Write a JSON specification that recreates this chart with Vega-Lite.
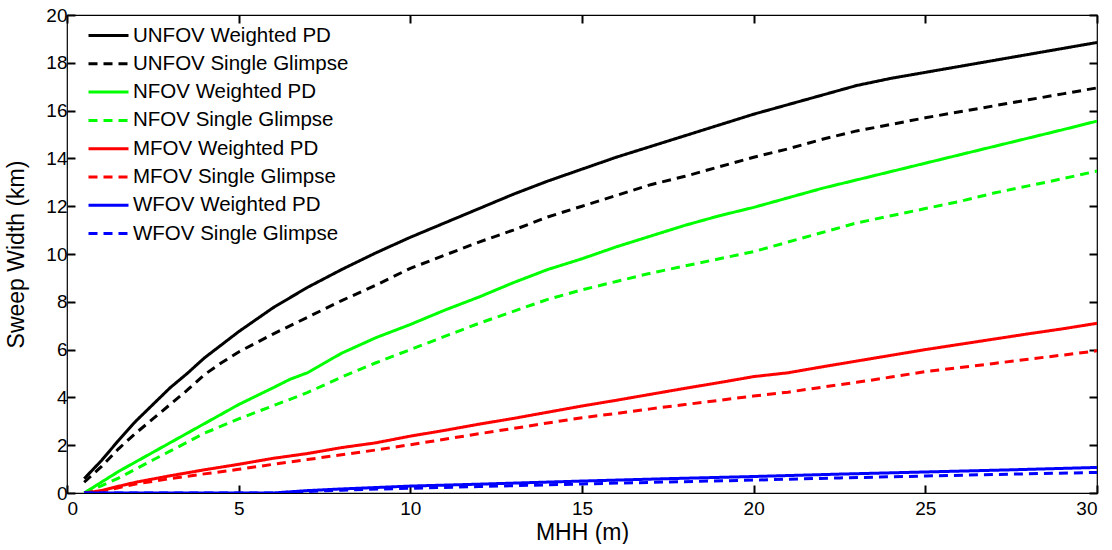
{
  "$schema": "https://vega.github.io/schema/vega-lite/v6.json",
  "width": 1030,
  "height": 478,
  "padding": {"left": 5, "top": 6, "right": 10, "bottom": 0},
  "background": "white",
  "config": {
    "font": "Liberation Sans",
    "view": {"stroke": "#000", "strokeWidth": 1.2},
    "axis": {"grid": false, "domain": false, "tickColor": "black", "tickSize": -8, "tickWidth": 2, "labelColor": "#000", "labelFontSize": 19, "titleColor": "#000", "titleFontSize": 23, "titleFontWeight": "normal", "labelFont": "Liberation Sans", "titleFont": "Liberation Sans", "zindex": 1},
    "legend": {"symbolType": "M-2,0L2,0", "symbolSize": 400, "symbolStrokeWidth": 3, "labelFontSize": 20.5, "labelFont": "Liberation Sans", "labelColor": "#000", "labelOffset": 13, "rowPadding": 6.3, "padding": 0, "labelLimit": 400}
  },
  "data": {"values": [
    {"s":"UNFOV Weighted PD","x":0.5,"y":0.6},{"s":"UNFOV Weighted PD","x":1,"y":1.35},{"s":"UNFOV Weighted PD","x":1.5,"y":2.2},{"s":"UNFOV Weighted PD","x":2,"y":3.0},{"s":"UNFOV Weighted PD","x":2.5,"y":3.7},{"s":"UNFOV Weighted PD","x":3,"y":4.4},{"s":"UNFOV Weighted PD","x":3.5,"y":5.0},{"s":"UNFOV Weighted PD","x":4,"y":5.65},{"s":"UNFOV Weighted PD","x":4.5,"y":6.2},{"s":"UNFOV Weighted PD","x":5,"y":6.75},{"s":"UNFOV Weighted PD","x":6,"y":7.75},{"s":"UNFOV Weighted PD","x":7,"y":8.6},{"s":"UNFOV Weighted PD","x":8,"y":9.35},{"s":"UNFOV Weighted PD","x":9,"y":10.05},{"s":"UNFOV Weighted PD","x":10,"y":10.7},{"s":"UNFOV Weighted PD","x":11,"y":11.3},{"s":"UNFOV Weighted PD","x":12,"y":11.9},{"s":"UNFOV Weighted PD","x":13,"y":12.5},{"s":"UNFOV Weighted PD","x":14,"y":13.05},{"s":"UNFOV Weighted PD","x":15,"y":13.55},{"s":"UNFOV Weighted PD","x":16,"y":14.05},{"s":"UNFOV Weighted PD","x":17,"y":14.5},{"s":"UNFOV Weighted PD","x":18,"y":14.95},{"s":"UNFOV Weighted PD","x":19,"y":15.4},{"s":"UNFOV Weighted PD","x":20,"y":15.85},{"s":"UNFOV Weighted PD","x":21,"y":16.25},{"s":"UNFOV Weighted PD","x":22,"y":16.65},{"s":"UNFOV Weighted PD","x":23,"y":17.05},{"s":"UNFOV Weighted PD","x":23.5,"y":17.2},{"s":"UNFOV Weighted PD","x":24,"y":17.35},{"s":"UNFOV Weighted PD","x":25,"y":17.6},{"s":"UNFOV Weighted PD","x":26,"y":17.85},{"s":"UNFOV Weighted PD","x":27,"y":18.1},{"s":"UNFOV Weighted PD","x":28,"y":18.35},{"s":"UNFOV Weighted PD","x":29,"y":18.6},{"s":"UNFOV Weighted PD","x":30,"y":18.85},
    {"s":"UNFOV Single Glimpse","x":0.5,"y":0.45},{"s":"UNFOV Single Glimpse","x":1,"y":1.1},{"s":"UNFOV Single Glimpse","x":1.5,"y":1.85},{"s":"UNFOV Single Glimpse","x":2,"y":2.5},{"s":"UNFOV Single Glimpse","x":2.5,"y":3.1},{"s":"UNFOV Single Glimpse","x":3,"y":3.7},{"s":"UNFOV Single Glimpse","x":3.5,"y":4.3},{"s":"UNFOV Single Glimpse","x":4,"y":4.95},{"s":"UNFOV Single Glimpse","x":4.5,"y":5.45},{"s":"UNFOV Single Glimpse","x":5,"y":5.9},{"s":"UNFOV Single Glimpse","x":6,"y":6.65},{"s":"UNFOV Single Glimpse","x":7,"y":7.35},{"s":"UNFOV Single Glimpse","x":8,"y":8.05},{"s":"UNFOV Single Glimpse","x":9,"y":8.7},{"s":"UNFOV Single Glimpse","x":10,"y":9.4},{"s":"UNFOV Single Glimpse","x":11,"y":9.95},{"s":"UNFOV Single Glimpse","x":12,"y":10.5},{"s":"UNFOV Single Glimpse","x":13,"y":11.0},{"s":"UNFOV Single Glimpse","x":14,"y":11.55},{"s":"UNFOV Single Glimpse","x":15,"y":12.0},{"s":"UNFOV Single Glimpse","x":16,"y":12.45},{"s":"UNFOV Single Glimpse","x":17,"y":12.9},{"s":"UNFOV Single Glimpse","x":18,"y":13.25},{"s":"UNFOV Single Glimpse","x":19,"y":13.65},{"s":"UNFOV Single Glimpse","x":20,"y":14.05},{"s":"UNFOV Single Glimpse","x":21,"y":14.4},{"s":"UNFOV Single Glimpse","x":22,"y":14.8},{"s":"UNFOV Single Glimpse","x":23,"y":15.15},{"s":"UNFOV Single Glimpse","x":24,"y":15.42},{"s":"UNFOV Single Glimpse","x":25,"y":15.7},{"s":"UNFOV Single Glimpse","x":26,"y":15.95},{"s":"UNFOV Single Glimpse","x":27,"y":16.2},{"s":"UNFOV Single Glimpse","x":28,"y":16.45},{"s":"UNFOV Single Glimpse","x":29,"y":16.7},{"s":"UNFOV Single Glimpse","x":30,"y":16.95},
    {"s":"NFOV Weighted PD","x":0.5,"y":0},{"s":"NFOV Weighted PD","x":1,"y":0.45},{"s":"NFOV Weighted PD","x":1.5,"y":0.9},{"s":"NFOV Weighted PD","x":2,"y":1.3},{"s":"NFOV Weighted PD","x":2.5,"y":1.7},{"s":"NFOV Weighted PD","x":3,"y":2.1},{"s":"NFOV Weighted PD","x":4,"y":2.9},{"s":"NFOV Weighted PD","x":5,"y":3.7},{"s":"NFOV Weighted PD","x":6,"y":4.4},{"s":"NFOV Weighted PD","x":6.5,"y":4.76},{"s":"NFOV Weighted PD","x":7,"y":5.03},{"s":"NFOV Weighted PD","x":8,"y":5.85},{"s":"NFOV Weighted PD","x":9,"y":6.5},{"s":"NFOV Weighted PD","x":10,"y":7.05},{"s":"NFOV Weighted PD","x":11,"y":7.65},{"s":"NFOV Weighted PD","x":12,"y":8.2},{"s":"NFOV Weighted PD","x":13,"y":8.8},{"s":"NFOV Weighted PD","x":14,"y":9.35},{"s":"NFOV Weighted PD","x":15,"y":9.8},{"s":"NFOV Weighted PD","x":16,"y":10.3},{"s":"NFOV Weighted PD","x":17,"y":10.75},{"s":"NFOV Weighted PD","x":18,"y":11.2},{"s":"NFOV Weighted PD","x":19,"y":11.6},{"s":"NFOV Weighted PD","x":20,"y":11.95},{"s":"NFOV Weighted PD","x":21,"y":12.35},{"s":"NFOV Weighted PD","x":22,"y":12.75},{"s":"NFOV Weighted PD","x":23,"y":13.1},{"s":"NFOV Weighted PD","x":24,"y":13.45},{"s":"NFOV Weighted PD","x":25,"y":13.8},{"s":"NFOV Weighted PD","x":26,"y":14.15},{"s":"NFOV Weighted PD","x":27,"y":14.5},{"s":"NFOV Weighted PD","x":28,"y":14.85},{"s":"NFOV Weighted PD","x":29,"y":15.2},{"s":"NFOV Weighted PD","x":30,"y":15.56},
    {"s":"NFOV Single Glimpse","x":0.5,"y":0},{"s":"NFOV Single Glimpse","x":1,"y":0.3},{"s":"NFOV Single Glimpse","x":1.5,"y":0.62},{"s":"NFOV Single Glimpse","x":2,"y":1.0},{"s":"NFOV Single Glimpse","x":2.5,"y":1.38},{"s":"NFOV Single Glimpse","x":3,"y":1.75},{"s":"NFOV Single Glimpse","x":4,"y":2.5},{"s":"NFOV Single Glimpse","x":5,"y":3.1},{"s":"NFOV Single Glimpse","x":6,"y":3.65},{"s":"NFOV Single Glimpse","x":7,"y":4.2},{"s":"NFOV Single Glimpse","x":8,"y":4.85},{"s":"NFOV Single Glimpse","x":9,"y":5.45},{"s":"NFOV Single Glimpse","x":10,"y":6.0},{"s":"NFOV Single Glimpse","x":11,"y":6.55},{"s":"NFOV Single Glimpse","x":12,"y":7.1},{"s":"NFOV Single Glimpse","x":13,"y":7.6},{"s":"NFOV Single Glimpse","x":14,"y":8.1},{"s":"NFOV Single Glimpse","x":15,"y":8.5},{"s":"NFOV Single Glimpse","x":16,"y":8.85},{"s":"NFOV Single Glimpse","x":17,"y":9.2},{"s":"NFOV Single Glimpse","x":18,"y":9.5},{"s":"NFOV Single Glimpse","x":19,"y":9.8},{"s":"NFOV Single Glimpse","x":20,"y":10.1},{"s":"NFOV Single Glimpse","x":21,"y":10.5},{"s":"NFOV Single Glimpse","x":22,"y":10.9},{"s":"NFOV Single Glimpse","x":23,"y":11.3},{"s":"NFOV Single Glimpse","x":24,"y":11.6},{"s":"NFOV Single Glimpse","x":25,"y":11.9},{"s":"NFOV Single Glimpse","x":26,"y":12.2},{"s":"NFOV Single Glimpse","x":27,"y":12.55},{"s":"NFOV Single Glimpse","x":28,"y":12.85},{"s":"NFOV Single Glimpse","x":29,"y":13.15},{"s":"NFOV Single Glimpse","x":30,"y":13.47},
    {"s":"MFOV Weighted PD","x":0.5,"y":0},{"s":"MFOV Weighted PD","x":1,"y":0.1},{"s":"MFOV Weighted PD","x":1.5,"y":0.28},{"s":"MFOV Weighted PD","x":2,"y":0.45},{"s":"MFOV Weighted PD","x":3,"y":0.72},{"s":"MFOV Weighted PD","x":4,"y":0.97},{"s":"MFOV Weighted PD","x":5,"y":1.2},{"s":"MFOV Weighted PD","x":6,"y":1.45},{"s":"MFOV Weighted PD","x":7,"y":1.65},{"s":"MFOV Weighted PD","x":8,"y":1.9},{"s":"MFOV Weighted PD","x":9,"y":2.1},{"s":"MFOV Weighted PD","x":10,"y":2.38},{"s":"MFOV Weighted PD","x":11,"y":2.62},{"s":"MFOV Weighted PD","x":12,"y":2.88},{"s":"MFOV Weighted PD","x":13,"y":3.12},{"s":"MFOV Weighted PD","x":14,"y":3.38},{"s":"MFOV Weighted PD","x":15,"y":3.64},{"s":"MFOV Weighted PD","x":16,"y":3.88},{"s":"MFOV Weighted PD","x":17,"y":4.13},{"s":"MFOV Weighted PD","x":18,"y":4.38},{"s":"MFOV Weighted PD","x":19,"y":4.62},{"s":"MFOV Weighted PD","x":20,"y":4.87},{"s":"MFOV Weighted PD","x":21,"y":5.03},{"s":"MFOV Weighted PD","x":22,"y":5.28},{"s":"MFOV Weighted PD","x":23,"y":5.52},{"s":"MFOV Weighted PD","x":24,"y":5.76},{"s":"MFOV Weighted PD","x":25,"y":6.0},{"s":"MFOV Weighted PD","x":26,"y":6.22},{"s":"MFOV Weighted PD","x":27,"y":6.44},{"s":"MFOV Weighted PD","x":28,"y":6.66},{"s":"MFOV Weighted PD","x":29,"y":6.87},{"s":"MFOV Weighted PD","x":30,"y":7.1},
    {"s":"MFOV Single Glimpse","x":0.5,"y":0},{"s":"MFOV Single Glimpse","x":1,"y":0.08},{"s":"MFOV Single Glimpse","x":1.5,"y":0.22},{"s":"MFOV Single Glimpse","x":2,"y":0.38},{"s":"MFOV Single Glimpse","x":3,"y":0.6},{"s":"MFOV Single Glimpse","x":4,"y":0.8},{"s":"MFOV Single Glimpse","x":5,"y":0.99},{"s":"MFOV Single Glimpse","x":6,"y":1.2},{"s":"MFOV Single Glimpse","x":7,"y":1.4},{"s":"MFOV Single Glimpse","x":8,"y":1.6},{"s":"MFOV Single Glimpse","x":9,"y":1.8},{"s":"MFOV Single Glimpse","x":10,"y":2.02},{"s":"MFOV Single Glimpse","x":11,"y":2.25},{"s":"MFOV Single Glimpse","x":12,"y":2.48},{"s":"MFOV Single Glimpse","x":13,"y":2.7},{"s":"MFOV Single Glimpse","x":14,"y":2.93},{"s":"MFOV Single Glimpse","x":15,"y":3.15},{"s":"MFOV Single Glimpse","x":16,"y":3.33},{"s":"MFOV Single Glimpse","x":17,"y":3.52},{"s":"MFOV Single Glimpse","x":18,"y":3.7},{"s":"MFOV Single Glimpse","x":19,"y":3.88},{"s":"MFOV Single Glimpse","x":20,"y":4.06},{"s":"MFOV Single Glimpse","x":21,"y":4.22},{"s":"MFOV Single Glimpse","x":22,"y":4.43},{"s":"MFOV Single Glimpse","x":23,"y":4.63},{"s":"MFOV Single Glimpse","x":24,"y":4.85},{"s":"MFOV Single Glimpse","x":25,"y":5.08},{"s":"MFOV Single Glimpse","x":26,"y":5.25},{"s":"MFOV Single Glimpse","x":27,"y":5.42},{"s":"MFOV Single Glimpse","x":28,"y":5.6},{"s":"MFOV Single Glimpse","x":29,"y":5.77},{"s":"MFOV Single Glimpse","x":30,"y":5.95},
    {"s":"WFOV Weighted PD","x":0.5,"y":0},{"s":"WFOV Weighted PD","x":6,"y":0},{"s":"WFOV Weighted PD","x":7,"y":0.1},{"s":"WFOV Weighted PD","x":8,"y":0.17},{"s":"WFOV Weighted PD","x":9,"y":0.23},{"s":"WFOV Weighted PD","x":10,"y":0.29},{"s":"WFOV Weighted PD","x":12,"y":0.37},{"s":"WFOV Weighted PD","x":15,"y":0.5},{"s":"WFOV Weighted PD","x":17.5,"y":0.6},{"s":"WFOV Weighted PD","x":20,"y":0.69},{"s":"WFOV Weighted PD","x":22.5,"y":0.79},{"s":"WFOV Weighted PD","x":25,"y":0.88},{"s":"WFOV Weighted PD","x":27.5,"y":0.97},{"s":"WFOV Weighted PD","x":30,"y":1.07},
    {"s":"WFOV Single Glimpse","x":0.5,"y":0},{"s":"WFOV Single Glimpse","x":6,"y":0},{"s":"WFOV Single Glimpse","x":7,"y":0.06},{"s":"WFOV Single Glimpse","x":8,"y":0.12},{"s":"WFOV Single Glimpse","x":10,"y":0.2},{"s":"WFOV Single Glimpse","x":12,"y":0.27},{"s":"WFOV Single Glimpse","x":15,"y":0.38},{"s":"WFOV Single Glimpse","x":17.5,"y":0.46},{"s":"WFOV Single Glimpse","x":20,"y":0.54},{"s":"WFOV Single Glimpse","x":22.5,"y":0.63},{"s":"WFOV Single Glimpse","x":25,"y":0.71},{"s":"WFOV Single Glimpse","x":27.5,"y":0.79},{"s":"WFOV Single Glimpse","x":30,"y":0.86}
  ]},
  "layer": [
    {
      "mark": {"type": "line", "strokeWidth": 3, "clip": true},
      "encoding": {
        "x": {"field": "x", "type": "quantitative", "scale": {"domain": [0, 30], "nice": false, "zero": false}, "axis": {"title": "MHH (m)", "values": [0,5,10,15,20,25,30], "labelPadding": 14, "titlePadding": 3, "orient": "bottom"}},
        "y": {"field": "y", "type": "quantitative", "scale": {"domain": [0, 20], "nice": false}, "axis": {"title": "Sweep Width (km)", "values": [0,2,4,6,8,10,12,14,16,18,20], "labelPadding": 8, "titlePadding": 17, "orient": "left"}},
        "color": {"field": "s", "type": "nominal", "scale": {"domain": ["UNFOV Weighted PD","UNFOV Single Glimpse","NFOV Weighted PD","NFOV Single Glimpse","MFOV Weighted PD","MFOV Single Glimpse","WFOV Weighted PD","WFOV Single Glimpse"], "range": ["#000000","#000000","#00ff00","#00ff00","#ff0000","#ff0000","#0000ff","#0000ff"]}, "legend": {"title": null, "orient": "none", "legendX": 30, "legendY": 9}},
        "strokeDash": {"field": "s", "type": "nominal", "scale": {"domain": ["UNFOV Weighted PD","UNFOV Single Glimpse","NFOV Weighted PD","NFOV Single Glimpse","MFOV Weighted PD","MFOV Single Glimpse","WFOV Weighted PD","WFOV Single Glimpse"], "range": [[1,0],[9,6],[1,0],[9,6],[1,0],[9,6],[1,0],[9,6]]}, "legend": {"title": null, "orient": "none", "legendX": 30, "legendY": 9}},
        "order": {"field": "x", "type": "quantitative"}
      }
    },
    {
      "mark": {"type": "point", "opacity": 0},
      "encoding": {
        "x": {"field": "x", "type": "quantitative", "axis": {"orient": "top", "title": null, "labels": false, "values": [0,5,10,15,20,25,30]}},
        "y": {"field": "y", "type": "quantitative", "axis": {"orient": "right", "title": null, "labels": false, "values": [0,2,4,6,8,10,12,14,16,18,20]}}
      }
    }
  ],
  "resolve": {"axis": {"x": "independent", "y": "independent"}}
}
